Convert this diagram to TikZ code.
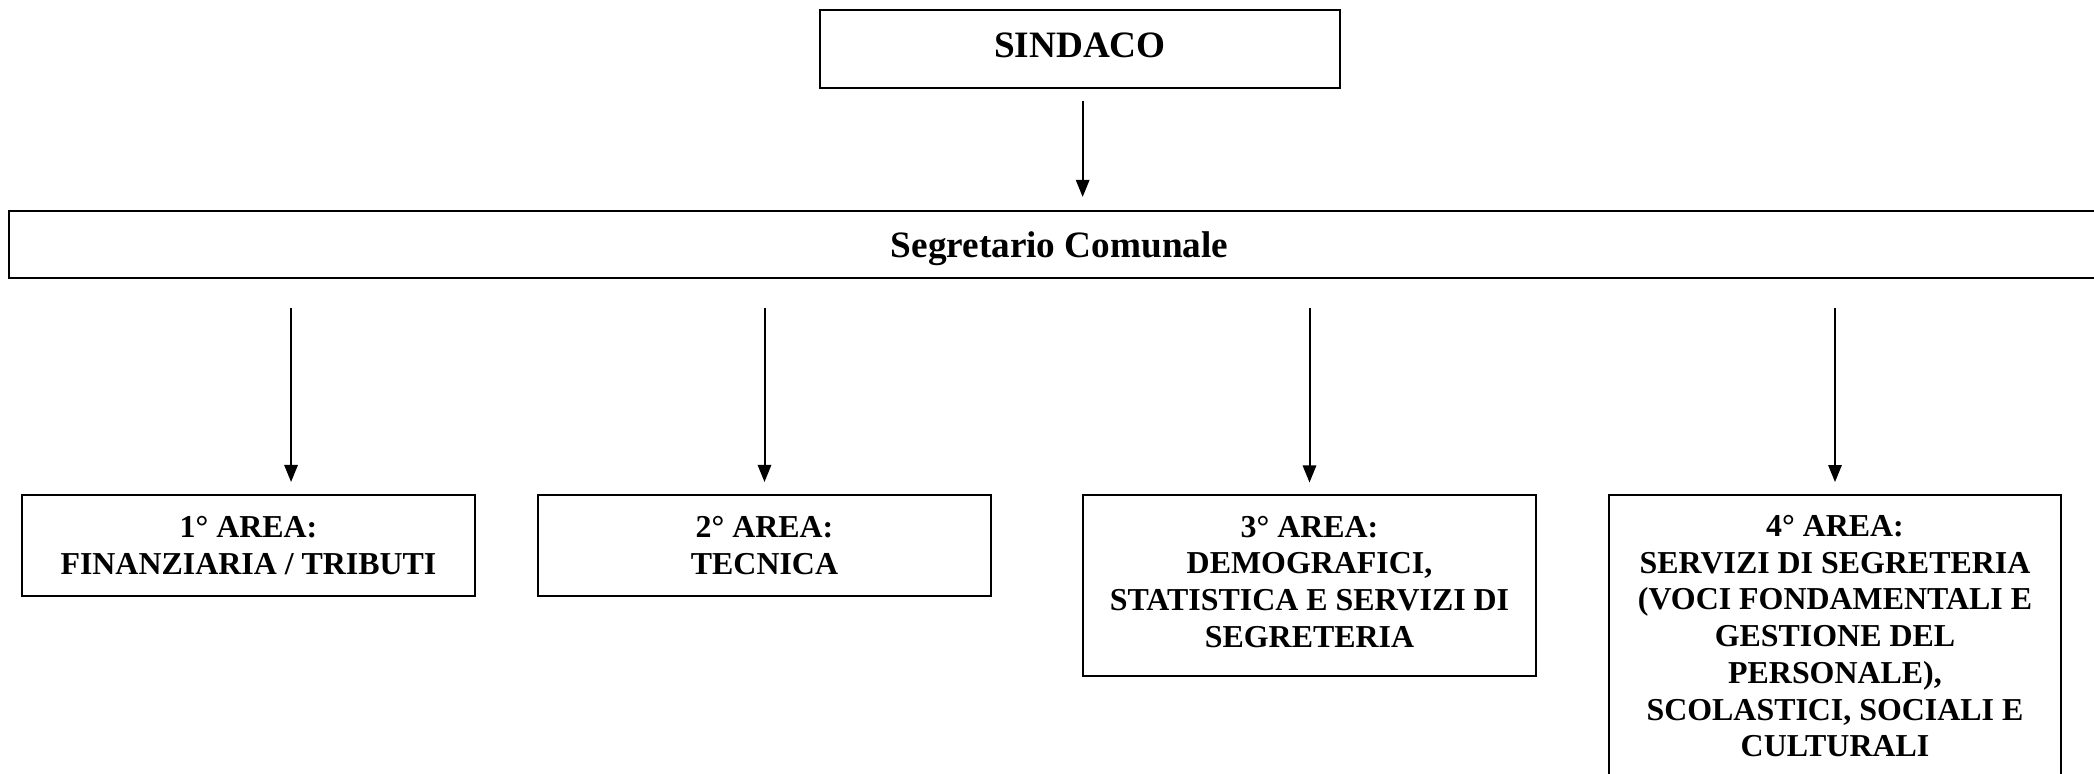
\documentclass[tikz,border=0pt]{standalone}
\usepackage{fontspec}
\setmainfont{Liberation Serif}
\usetikzlibrary{arrows.meta}

\tikzset{
  areabox/.style={draw, line width=0.75pt, inner sep=0pt, align=center,
    minimum width=170pt, font=\fontsize{12}{13.8}\selectfont\bfseries},
  headbox/.style={areabox, font=\fontsize{14}{16}\selectfont\bfseries},
  arr/.style={-{Triangle[length=6.4pt,width=5pt]}, line width=0.75pt}
}

\begin{document}
\begin{tikzpicture}[x=0.376pt, y=-0.376pt]
            \useasboundingbox (0,0) rectangle (2094,773);
            \clip (0,0) rectangle (2094,773);

            % Top of the chart
            \node[headbox, minimum width=195.5pt, minimum height=29pt, text depth=3pt] (sindaco) at (1080,49) {SINDACO};
            \node[headbox, minimum width=790pt, minimum height=25.2pt, text height=12.6pt] (segr) at (1059.5,244.5) {Segretario Comunale};

            % The four areas
            \node[areabox, minimum height=38pt] (a1) at (248.5,545.5) {1° AREA:\\FINANZIARIA / TRIBUTI};
            \node[areabox, minimum height=38pt] (a2) at (764.5,545.5) {2° AREA:\\TECNICA};
            \node[areabox, minimum height=67.7pt, text depth=3pt] (a3) at (1309.5,585.5) {3° AREA:\\DEMOGRAFICI,\\STATISTICA E SERVIZI DI\\SEGRETERIA};
            \node[areabox, minimum height=109pt, text depth=3pt] (a4) at (1835,640) {4° AREA:\\SERVIZI DI SEGRETERIA\\(VOCI FONDAMENTALI E\\GESTIONE DEL\\PERSONALE),\\SCOLASTICI, SOCIALI E\\CULTURALI};

            % Arrows
            \draw[arr, shorten <=4.5pt, shorten >=4.9pt] ([xshift=1pt]sindaco.south) -- ([xshift=1pt]sindaco.south |- segr.north);
            \foreach \a/\dx in {a1/16pt, a2/0pt, a3/0pt, a4/0pt} {
            \draw[arr, shorten <=10.9pt, shorten >=4.5pt] ([xshift=\dx]segr.south -| \a.north) -- ([xshift=\dx]\a.north);
            }

\end{tikzpicture}
\end{document}
